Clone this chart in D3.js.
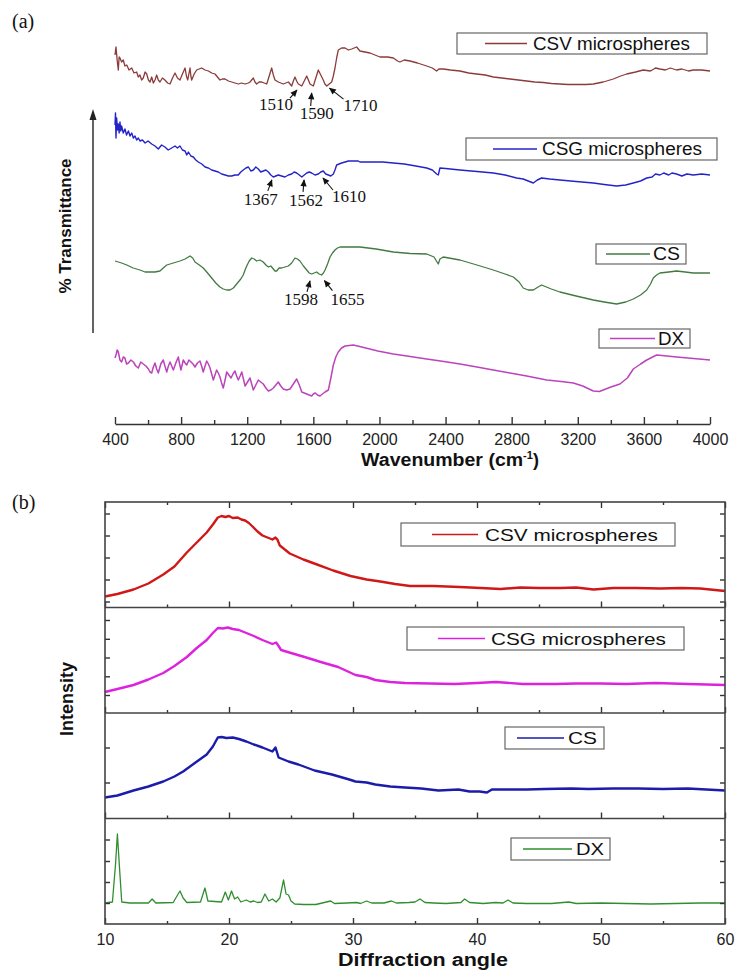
<!DOCTYPE html>
<html><head><meta charset="utf-8">
<script src="https://cdn.jsdelivr.net/npm/d3@7"></script>
<style>body{margin:0;background:#fff}svg{display:block}</style>
</head><body>
<svg id="c" width="737" height="972"></svg>
<script>
// ---------------- DATA ----------------
// Panel (a) FTIR: [wavenumber cm-1, stacked %T (a.u.)]
const ftirNames = ["CSV microspheres", "CSG microspheres", "CS", "DX"];
const ftirTicks = [400, 800, 1200, 1600, 2000, 2400, 2800, 3200, 3600, 4000];
const ftirMinorTicks = [600, 1000, 1400, 1800, 2200, 2600, 3000, 3400, 3800];

const ftirCSV = [[400,369],[406,377],[413,364],[420,354],[425,367],[430,366],[440,362],[450,364],[460,358],[471,359],[485,354],[501,356],[515,351],[531,352],[541,347],[551,349],[561,344],[571,346],[582,352],[592,350],[602,344],[612,342],[622,347],[632,341],[642,344],[652,349],[662,344],[672,342],[687,346],[702,344],[718,341],[733,340],[748,346],[763,351],[778,346],[793,344],[808,350],[824,356],[832,348],[840,344],[847,350],[854,356],[859,348],[864,344],[879,350],[894,354],[909,355],[924,356],[945,354],[965,353],[985,351],[1005,350],[1020,347],[1035,344],[1050,345],[1066,345],[1086,343],[1106,342],[1126,341],[1146,340],[1166,341],[1187,340],[1207,341],[1217,342],[1237,346],[1247,342],[1257,340],[1272,342],[1288,342],[1303,341],[1318,340],[1333,348],[1348,356],[1358,349],[1368,344],[1388,342],[1403,341],[1418,340],[1433,341],[1449,342],[1459,340],[1469,338],[1479,343],[1489,347],[1499,343],[1509,340],[1520,339],[1530,338],[1545,343],[1560,348],[1570,344],[1580,340],[1600,338],[1615,346],[1630,354],[1645,349],[1660,344],[1670,340],[1681,338],[1696,340],[1711,342],[1721,348],[1731,356],[1741,366],[1751,374],[1771,376],[1792,376],[1812,374],[1832,375],[1847,376],[1862,377],[1882,373],[1943,371],[2003,367],[2050,367],[2084,366],[2110,363],[2124,362],[2150,364],[2185,363],[2230,361],[2286,358],[2320,356],[2346,353],[2360,355],[2386,355],[2430,354],[2487,353],[2540,351],[2588,350],[2640,349],[2689,347],[2740,346],[2790,345],[2840,344],[2891,343],[2940,342],[2991,341.5],[3040,340.5],[3092,340],[3140,339.5],[3193,339.5],[3250,339.5],[3294,340],[3354,342],[3415,345],[3460,348],[3496,350],[3550,352],[3596,354],[3640,353],[3670,356],[3697,355],[3730,354],[3760,356],[3798,354],[3830,355],[3870,353],[3899,354],[3950,354],[4000,353]];

const ftirCSG = [[400,299],[403,311],[406,286],[410,306],[415,294],[420,300],[425,291],[430,302],[435,293],[440,298],[450,291],[460,295],[470,289],[481,293],[491,288],[501,291],[511,286],[521,288],[531,284],[541,286],[551,283],[566,284],[582,281],[600,283],[622,280],[642,278],[662,275],[682,279],[702,277],[722,274],[743,276],[763,278],[778,276],[793,278],[808,274],[824,273],[834,269],[844,272],[859,268],[874,267],[889,264],[904,262],[925,260],[945,257],[965,256],[985,254],[1005,253],[1025,252],[1045,250],[1066,249],[1086,248],[1106,248],[1126,249],[1146,249],[1161,252],[1176,254],[1192,256],[1207,257],[1222,253],[1237,254],[1252,257],[1267,255],[1282,252],[1297,253],[1313,254],[1328,252],[1343,249],[1358,247],[1373,248],[1388,249],[1408,248],[1428,247],[1449,249],[1469,250],[1484,252],[1499,251],[1515,249],[1530,247],[1545,249],[1560,251],[1575,252],[1590,251],[1610,249],[1630,250],[1645,252],[1660,253],[1675,250],[1691,249],[1706,248],[1721,250],[1731,254],[1741,259],[1756,260],[1771,261],[1792,262],[1812,263],[1842,263],[1872,263],[1882,262],[1950,262],[2020,262],[2084,261],[2150,260],[2220,258],[2286,256],[2320,254],[2346,250],[2356,249],[2366,256],[2400,255.5],[2487,254],[2590,252.5],[2689,251],[2760,249],[2830,246],[2870,245],[2900,243],[2931,241],[2955,244],[2981,246],[3030,245],[3092,244],[3190,242.5],[3294,241],[3360,239.5],[3435,238],[3490,239],[3536,241],[3580,243],[3617,246],[3650,247],[3670,250],[3697,249],[3720,251],[3750,249],[3770,251],[3798,250],[3830,248],[3860,250],[3899,249],[3950,250],[4000,249]];

const ftirCS = [[400,163],[440,161],[471,159],[510,156],[551,154],[582,152],[612,152],[642,152],[672,153],[692,156],[713,159],[753,161],[793,163],[824,165],[854,168],[870,166],[884,162],[910,159],[934,156],[960,151],[985,146],[1010,141],[1035,137],[1055,135],[1076,134],[1096,134],[1116,136],[1131,139],[1146,142],[1161,145],[1176,149],[1187,154],[1197,158],[1212,163],[1227,166],[1242,165],[1257,163],[1277,164],[1297,162],[1313,159],[1328,157],[1343,158],[1358,155],[1368,153],[1378,153],[1393,156],[1408,156],[1428,157],[1449,158],[1469,161],[1489,166],[1504,165],[1519,163],[1540,158],[1560,154],[1575,151],[1590,150],[1605,151],[1620,152],[1635,150],[1650,149],[1661,151],[1671,154],[1686,160],[1701,167],[1716,171],[1731,174],[1746,176],[1761,177],[1822,177],[1882,177],[1980,175],[2084,172],[2186,170.5],[2286,170],[2330,167],[2356,160],[2366,165],[2386,167],[2487,164],[2590,159],[2689,154],[2760,150],[2810,147],[2845,142],[2870,136],[2900,134],[2931,134],[2960,137],[2981,139],[3040,135],[3092,132],[3190,128],[3294,124],[3360,122],[3435,120],[3490,122],[3536,125],[3580,129],[3617,134],[3640,140],[3657,146],[3677,149],[3697,151],[3750,152],[3798,153],[3850,152],[3899,151],[3950,151],[4000,151]];

const ftirDX = [[400,66],[406,69],[413,74],[420,72],[430,64],[440,62],[450,67],[460,66],[470,60],[481,61],[496,64],[511,62],[526,58],[541,56],[556,62],[571,60],[587,58],[602,55],[612,52],[622,51],[632,57],[642,61],[652,55],[662,51],[677,60],[692,64],[702,58],[713,52],[723,58],[733,62],[743,58],[753,54],[768,61],[783,67],[791,60],[799,54],[806,59],[813,64],[824,61],[834,59],[847,64],[860,62],[872,60],[884,57],[899,61],[914,63],[924,58],[934,52],[945,58],[955,63],[965,60],[975,56],[985,50],[995,44],[1005,49],[1015,54],[1025,51],[1035,47],[1045,41],[1055,36],[1066,44],[1076,52],[1089,49],[1102,46],[1114,50],[1126,53],[1136,48],[1146,44],[1157,48],[1167,52],[1177,45],[1187,38],[1202,42],[1217,46],[1227,40],[1237,34],[1252,39],[1267,44],[1282,42],[1297,40],[1313,36],[1328,33],[1343,34],[1358,36],[1373,39],[1388,42],[1403,38],[1418,35],[1438,34],[1459,35],[1479,40],[1499,45],[1515,39],[1530,32],[1545,31],[1560,30],[1575,29],[1590,28],[1600,30],[1612,31],[1625,29],[1640,28],[1655,30],[1671,32],[1681,33],[1691,34],[1706,46],[1721,59],[1736,67],[1751,72],[1771,76],[1792,78],[1842,79],[1893,77],[1990,73],[2084,70],[2186,67.5],[2286,65],[2390,62.5],[2487,60],[2590,57],[2689,54],[2790,51],[2891,48],[3012,44],[3100,42.5],[3173,41],[3230,38],[3294,33],[3330,32.5],[3354,34],[3400,37],[3455,40],[3500,46],[3536,55],[3580,60],[3617,64],[3677,69],[3740,68],[3798,67],[3900,65.5],[4000,64]];

// peak labels: [series index, wavenumber, label]
const ftirPeaks = [[0,1510,"1510"],[0,1590,"1590"],[0,1710,"1710"],[1,1367,"1367"],[1,1562,"1562"],[1,1610,"1610"],[2,1598,"1598"],[2,1655,"1655"]];

// Panel (b) XRD: [2θ, intensity (a.u.)]
const xrdNames = ["CSV microspheres", "CSG microspheres", "CS", "DX"];
const xrdTicks = [10, 20, 30, 40, 50, 60];
const xrdMinorTicks = [15, 25, 35, 45, 55];
const xrdYTicks = [[60,280,500,720,940],[180,367,555,742,930],[360,710],[210,420,630,845]];

const xrdCSV = [[10,110],[11,135],[12.3,180],[13.5,240],[14.7,330],[15.6,410],[16.6,550],[17.4,650],[18.2,750],[18.7,830],[19.1,900],[19.4,915],[19.7,905],[20.0,915],[20.3,895],[20.7,900],[21.0,880],[21.3,870],[21.6,845],[21.9,810],[22.3,760],[22.7,720],[23.1,700],[23.5,680],[23.75,700],[23.9,680],[24.1,620],[24.5,580],[24.9,540],[26.0,480],[27.1,430],[28.4,370],[29.8,315],[31.1,280],[32.2,260],[33.4,235],[34.6,215],[36.5,215],[38.6,205],[40.3,195],[41.9,185],[43.5,200],[45.0,195],[46.7,195],[48.0,200],[49.4,180],[51.0,195],[52.8,195],[54.8,190],[56.5,195],[58.0,190],[60,165]];

const xrdCSG = [[10,210],[11,240],[12.3,280],[13.5,335],[14.7,400],[15.6,470],[16.6,560],[17.4,650],[18.2,730],[18.7,800],[19.1,850],[19.5,845],[19.9,855],[20.3,840],[20.8,830],[21.4,800],[22.0,770],[22.7,730],[23.1,710],[23.5,690],[23.8,705],[24.0,670],[24.2,630],[25.0,600],[26.1,560],[27.4,510],[28.8,460],[30.2,380],[31.1,360],[31.8,330],[33.0,310],[34.2,300],[36.2,295],[38.2,290],[40.0,300],[41.5,310],[43.7,290],[46.3,290],[48.0,295],[50.0,295],[52.0,290],[54.4,300],[57.0,290],[60,280]];

const xrdCS = [[10,210],[11,230],[12.3,280],[13.5,320],[14.7,370],[15.6,420],[16.3,470],[17.3,560],[18.2,640],[18.7,720],[19.1,810],[19.4,815],[19.8,805],[20.3,810],[20.8,795],[21.4,770],[22.0,740],[22.7,710],[23.1,690],[23.5,670],[23.75,710],[24.0,610],[24.8,570],[25.6,540],[26.9,480],[28.3,440],[29.7,390],[30.2,370],[31.1,360],[31.8,340],[33.0,320],[34.2,310],[35.5,300],[36.9,280],[38.5,290],[39.4,270],[40.2,270],[40.8,260],[41.2,290],[42.3,290],[44.0,290],[45.5,295],[47.6,300],[49,295],[51,300],[53,300],[55,295],[57,300],[60,280]];

const xrdDX = [[10,210],[10.6,220],[10.85,600],[11.0,900],[11.15,600],[11.35,220],[12,210],[13.5,210],[13.8,250],[14.1,210],[15.5,215],[15.9,300],[16.05,330],[16.3,260],[16.6,215],[17.7,220],[18.06,360],[18.3,230],[19.4,220],[19.7,320],[19.95,240],[20.2,330],[20.45,250],[20.7,270],[20.95,220],[21.4,240],[21.7,220],[22.0,230],[22.3,215],[22.6,220],[22.9,300],[23.2,230],[23.5,250],[23.8,220],[24.1,260],[24.4,440],[24.6,300],[24.8,290],[25.0,230],[25.3,200],[26,195],[27,195],[28.2,230],[28.5,205],[29.5,210],[30.3,215],[30.6,205],[31.1,230],[31.5,210],[32.5,210],[33.1,230],[33.5,210],[34.5,215],[35.0,220],[35.4,250],[35.8,215],[36.5,210],[37.5,205],[38.7,215],[39.0,250],[39.4,215],[40.5,205],[41.5,215],[42.1,210],[42.5,240],[42.9,210],[44,205],[46,205],[47.4,220],[48,205],[50,210],[52,205],[54,200],[56,205],[58,210],[60,210]];

// ---------------- LAYOUT / STYLE ----------------
const FONT = "'Liberation Sans', Arial, sans-serif";
const SERIF = "'Liberation Serif', 'Times New Roman', serif";
const ftirColors = ["#8c3b3b", "#2323c8", "#437a43", "#bb44bb"];
const xrdColors = ["#d01818", "#dd22dd", "#1c1caa", "#2f8f2f"];

const svg = d3.select("#c");

// ========== Panel (a) ==========
const xa = d3.scaleLinear().domain([400, 4000]).range([115, 710]);
const ya = d3.scaleLinear().domain([0, 400]).range([424, 24]);
const lineA = d3.line().x(d => xa(d[0])).y(d => ya(d[1]));
const ftirSeries = [ftirCSV, ftirCSG, ftirCS, ftirDX];
const ftirWidths = [1.3, 1.4, 1.3, 1.5];

svg.append("g").selectAll("path").data(ftirSeries).join("path")
  .attr("d", lineA).attr("fill", "none")
  .attr("stroke", (d, i) => ftirColors[i]).attr("stroke-width", (d, i) => ftirWidths[i])
  .attr("stroke-linejoin", "round");

// x axis (a)
const axA = svg.append("g").attr("transform", "translate(0,424)")
  .call(d3.axisBottom(xa).tickValues(ftirTicks).tickSize(-7).tickSizeOuter(0).tickPadding(10)
    .tickFormat(d3.format("d")));
axA.select(".domain").attr("stroke", "#333").attr("stroke-width", 1.4);
axA.selectAll(".tick line").attr("stroke", "#333").attr("stroke-width", 1.4);
axA.selectAll(".tick text").attr("font-family", FONT).attr("font-size", 16).attr("fill", "#222");
const axAm = svg.append("g").attr("transform", "translate(0,424)")
  .call(d3.axisBottom(xa).tickValues(ftirMinorTicks).tickSize(-4).tickFormat(""));
axAm.select(".domain").remove();
axAm.selectAll(".tick line").attr("stroke", "#333").attr("stroke-width", 1.2);

svg.append("text").attr("x", 450).attr("y", 466).attr("text-anchor", "middle")
  .attr("font-family", FONT).attr("font-weight", "bold").attr("font-size", 18)
  .attr("fill", "#111")
  .call(t => {
    t.append("tspan").attr("textLength", 162).attr("lengthAdjust", "spacingAndGlyphs").text("Wavenumber (cm");
    t.append("tspan").attr("font-size", 11).attr("dy", -7).text("-1");
    t.append("tspan").attr("dy", 7).text(")");
  });

// vertical arrow + label
svg.append("line").attr("x1", 93).attr("x2", 93).attr("y1", 333).attr("y2", 118)
  .attr("stroke", "#222").attr("stroke-width", 1.4);
svg.append("path").attr("d", "M93,109 L89.5,120 L96.5,120 Z").attr("fill", "#222");
svg.append("text").attr("transform", "translate(71,226) rotate(-90)")
  .attr("text-anchor", "middle").attr("font-family", FONT).attr("font-weight", "bold")
  .attr("font-size", 17).attr("fill", "#111").text("% Transmittance");

// peak annotations: layout offsets [tipDx, tipDy, tailDx, tailDy, labelDx, labelDy]
const peakLayout = [
  [-1.5, 6, -7, 8, -21, 20],
  [0, 8, -1, 13, 5, 26],
  [-2, 6, 14, 11, 31, 23],
  [-3, 3.5, -4, 11, -11, 25],
  [-3, 7, -1, 12, 2, 26],
  [8, 3, 10, 12, 26, 24],
  [-3, 7.5, -3, 11, -9, 24],
  [2, 6.5, 8, 10, 23, 24]
];
svg.append("defs").append("marker").attr("id", "ah").attr("viewBox", "0 0 10 10")
  .attr("refX", 9).attr("refY", 5).attr("markerWidth", 8).attr("markerHeight", 7)
  .attr("orient", "auto").attr("markerUnits", "userSpaceOnUse")
  .append("path").attr("d", "M0,0.5 L10,5 L0,9.5 Z").attr("fill", "#111");
function curveAt(series, wn) {
  for (let i = 1; i < series.length; i++) {
    if (series[i][0] >= wn) {
      const a = series[i - 1], b = series[i];
      const t = (wn - a[0]) / (b[0] - a[0]);
      return a[1] + t * (b[1] - a[1]);
    }
  }
  return series[series.length - 1][1];
}
const gPk = svg.append("g");
ftirPeaks.forEach((p, i) => {
  const L = peakLayout[i];
  const tx = xa(p[1]) + L[0];
  const ty = ya(curveAt(ftirSeries[p[0]], p[1])) + L[1];
  const sx = tx + L[2], sy = ty + L[3];
  gPk.append("line").attr("x1", sx).attr("y1", sy).attr("x2", tx).attr("y2", ty)
    .attr("stroke", "#111").attr("stroke-width", 1.1).attr("marker-end", "url(#ah)");
  gPk.append("text").attr("x", tx + L[4]).attr("y", ty + L[5]).attr("text-anchor", "middle")
    .attr("font-family", SERIF).attr("font-size", 16).attr("fill", "#111")
    .attr("textLength", 34).attr("lengthAdjust", "spacingAndGlyphs").text(p[2]);
});

// legends (a): [boxX, boxY, boxW, boxH, lineX1, lineX2, textX, textLen]
const legA = [
  [457, 33, 250, 21, 485, 527, 533, 157],
  [466, 138, 251, 22, 493, 537, 542, 160],
  [596, 244, 90, 20, 606, 650, 653, 27],
  [599, 329, 91, 19, 610, 655, 658, 26]
];
function drawLegend(rows, names, colors, fs) {
  rows.forEach((r, i) => {
    const g = svg.append("g");
    const cy = r[1] + r[3] / 2;
    g.append("rect").attr("x", r[0]).attr("y", r[1]).attr("width", r[2]).attr("height", r[3])
      .attr("fill", "#fff").attr("stroke", "#666").attr("stroke-width", 1.2);
    g.append("line").attr("x1", r[4]).attr("x2", r[5]).attr("y1", cy).attr("y2", cy)
      .attr("stroke", colors[i]).attr("stroke-width", 1.3);
    g.append("text").attr("x", r[6]).attr("y", cy + fs * 0.36)
      .attr("font-family", FONT).attr("font-size", fs).attr("fill", "#111")
      .attr("textLength", r[7]).attr("lengthAdjust", "spacingAndGlyphs").text(names[i]);
  });
}
drawLegend(legA, ftirNames, ftirColors, 18);

svg.append("text").attr("x", 12).attr("y", 28).attr("font-family", SERIF)
  .attr("font-size", 20).attr("fill", "#111").text("(a)");

// ========== Panel (b) ==========
const xb = d3.scaleLinear().domain([10, 60]).range([105, 725]);
const bTop = 502, bBottom = 924, subH = (bBottom - bTop) / 4;
const xrdSeries = [xrdCSV, xrdCSG, xrdCS, xrdDX];

xrdSeries.forEach((s, i) => {
  const top = bTop + i * subH, bot = top + subH;
  const yb = d3.scaleLinear().domain([0, 1055]).range([bot, top]);
  svg.append("path").datum(s)
    .attr("d", d3.line().x(d => xb(d[0])).y(d => yb(d[1])))
    .attr("fill", "none").attr("stroke", xrdColors[i])
    .attr("stroke-width", i === 3 ? 1.3 : 2.4).attr("stroke-linejoin", "round");

  // y ticks left/right (inward)
  const yl = svg.append("g").attr("transform", "translate(105,0)")
    .call(d3.axisLeft(yb).tickValues(xrdYTicks[i]).tickSize(-5).tickFormat(""));
  yl.select(".domain").remove();
  const yr = svg.append("g").attr("transform", "translate(725,0)")
    .call(d3.axisRight(yb).tickValues(xrdYTicks[i]).tickSize(-5).tickFormat(""));
  yr.select(".domain").remove();

  // x ticks at bottom of sub-panel (inward)
  const last = i === 3;
  const xbM = svg.append("g").attr("transform", `translate(0,${bot})`)
    .call(d3.axisBottom(xb).tickValues(xrdTicks).tickSize(-6).tickSizeOuter(0).tickPadding(10)
      .tickFormat(last ? d3.format("d") : ""));
  xbM.select(".domain").remove();
  const xbm = svg.append("g").attr("transform", `translate(0,${bot})`)
    .call(d3.axisBottom(xb).tickValues(xrdMinorTicks).tickSize(-3).tickFormat(""));
  xbm.select(".domain").remove();

  if (i > 0) {
    svg.append("line").attr("x1", 105).attr("x2", 725).attr("y1", top).attr("y2", top)
      .attr("stroke", "#444").attr("stroke-width", 1.6);
  }
  if (i === 0) {
    const t1 = svg.append("g").attr("transform", `translate(0,${top})`)
      .call(d3.axisTop(xb).tickValues(xrdTicks).tickSize(-6).tickSizeOuter(0).tickFormat(""));
    t1.select(".domain").remove();
    const t2 = svg.append("g").attr("transform", `translate(0,${top})`)
      .call(d3.axisTop(xb).tickValues(xrdMinorTicks).tickSize(-3).tickFormat(""));
    t2.select(".domain").remove();
  }
});
svg.selectAll(".tick line").attr("stroke", "#333").attr("stroke-width", 1.4);
svg.selectAll(".tick text").attr("font-family", FONT).attr("font-size", 16).attr("fill", "#222");

svg.append("rect").attr("x", 105).attr("y", bTop).attr("width", 620).attr("height", bBottom - bTop)
  .attr("fill", "none").attr("stroke", "#444").attr("stroke-width", 1.6);

const legB = [
  [401, 523, 274, 23, 432, 478, 485, 173],
  [407, 627, 277, 23, 438, 485, 491, 175],
  [505, 727, 99, 22, 517, 564, 568, 29],
  [511, 838, 99, 22, 523, 572, 576, 28]
];
drawLegend(legB, xrdNames, xrdColors, 17);

svg.append("text").attr("x", 423).attr("y", 966).attr("text-anchor", "middle")
  .attr("font-family", FONT).attr("font-weight", "bold").attr("font-size", 18)
  .attr("fill", "#111").attr("textLength", 170).attr("lengthAdjust", "spacingAndGlyphs")
  .text("Diffraction angle");
svg.append("text").attr("transform", "translate(73,699) rotate(-90)")
  .attr("text-anchor", "middle").attr("font-family", FONT).attr("font-weight", "bold")
  .attr("font-size", 18).attr("fill", "#111").text("Intensity");

svg.append("text").attr("x", 12).attr("y", 509).attr("font-family", SERIF)
  .attr("font-size", 20).attr("fill", "#111").text("(b)");
</script>
</body></html>
